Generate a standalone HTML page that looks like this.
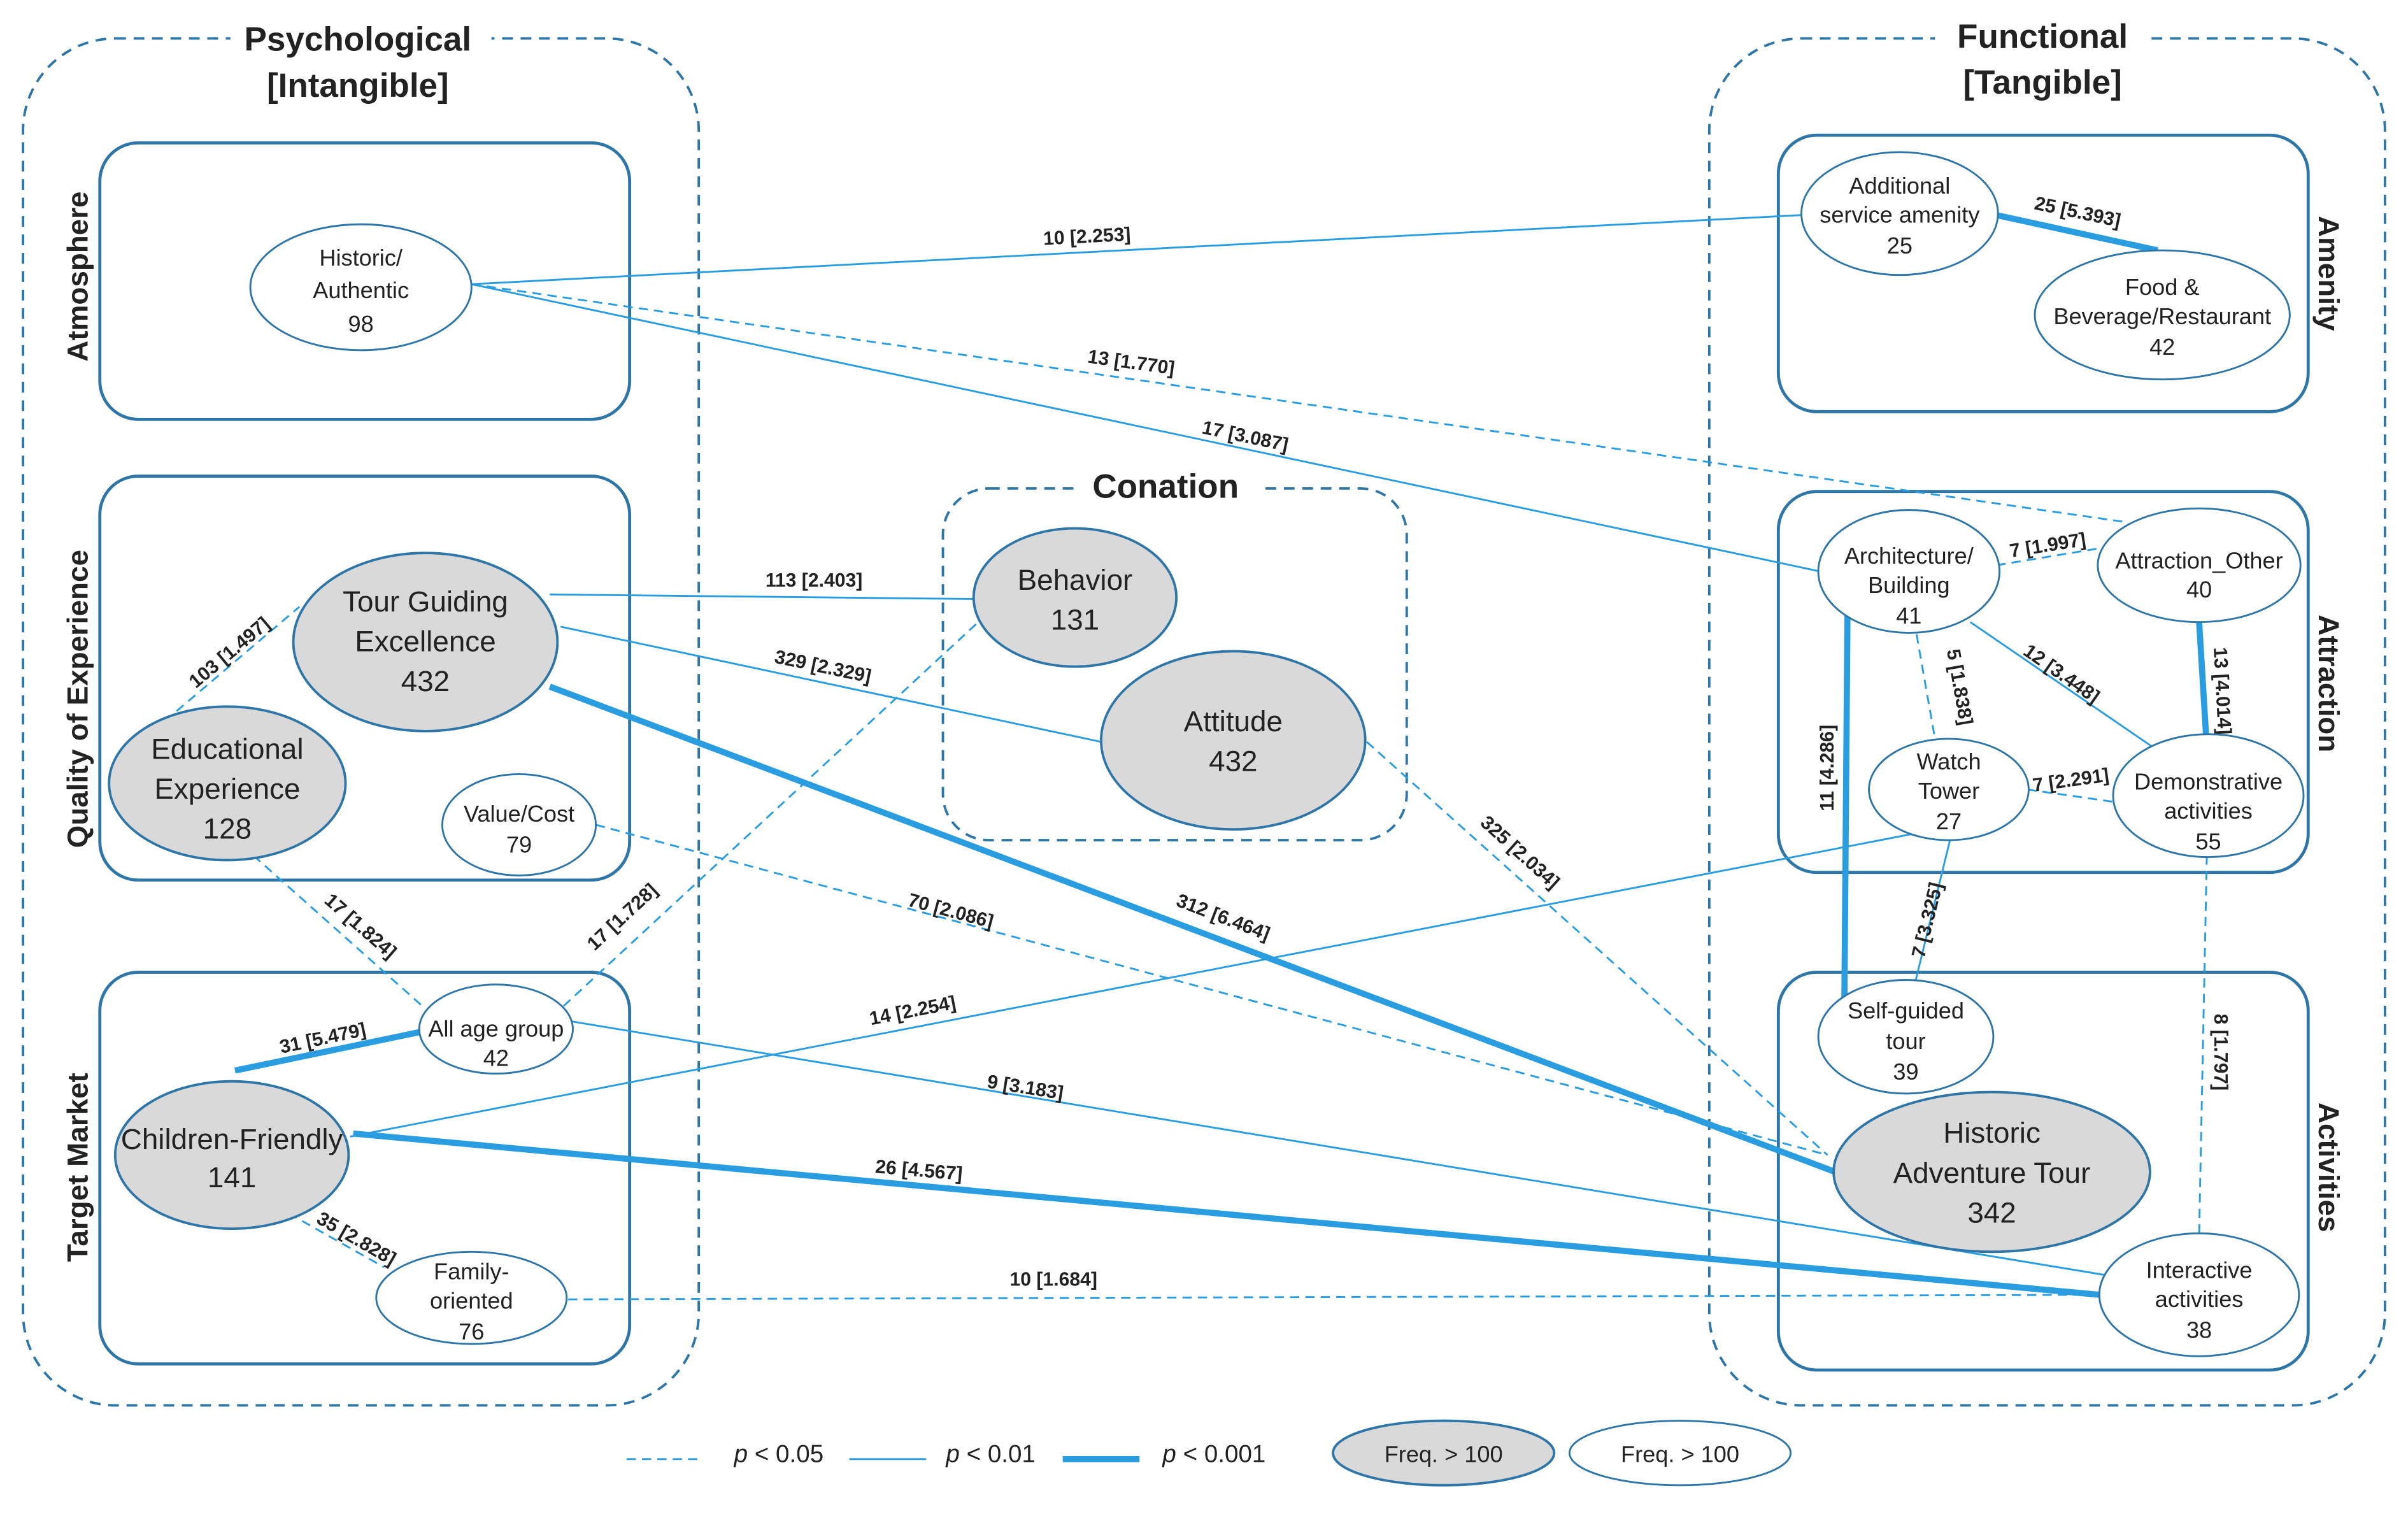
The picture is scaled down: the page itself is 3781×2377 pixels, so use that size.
<!DOCTYPE html>
<html><head><meta charset="utf-8"><style>
html,body{margin:0;padding:0;background:#fff;}
svg{display:block;}
text{font-family:"Liberation Sans",Arial,sans-serif;fill:#222;}
.t{font-size:15px;text-anchor:middle;}
.tb{font-size:19px;text-anchor:middle;}
.lb{font-size:12.5px;font-weight:bold;text-anchor:middle;}
.hd{font-size:22px;font-weight:bold;text-anchor:middle;}
.side{font-size:19px;font-weight:bold;text-anchor:middle;}
.box{fill:none;stroke:#2e75a8;stroke-width:2;}
.dbox{fill:none;stroke:#2e75a8;stroke-width:1.6;stroke-dasharray:7,5;}
.w{fill:#fff;stroke:#2e75a8;stroke-width:1.2;}
.g{fill:#d9d9d9;stroke:#2e75a8;stroke-width:1.6;}
.s{stroke:#2a9de0;stroke-width:1.2;fill:none;}
.d{stroke:#2a9de0;stroke-width:1.2;fill:none;stroke-dasharray:6,4;}
.k{stroke:#2a9de0;stroke-width:4;fill:none;}
</style></head><body>
<svg width="3781" height="2377" viewBox="0 0 1568 985.7" xmlns="http://www.w3.org/2000/svg">
<rect width="1568" height="986" fill="#fff"/>
<!-- outer dashed groups -->
<rect class="dbox" x="15" y="25" width="440" height="890" rx="60"/>
<rect class="dbox" x="1113" y="25" width="440" height="890" rx="60"/>
<rect x="150" y="10" width="170" height="60" fill="#fff"/>
<rect x="1260" y="8" width="140" height="60" fill="#fff"/>
<text class="hd" x="233" y="33">Psychological</text>
<text class="hd" x="233" y="63">[Intangible]</text>
<text class="hd" x="1330" y="31">Functional</text>
<text class="hd" x="1330" y="61">[Tangible]</text>
<!-- boxes -->
<rect class="box" x="65" y="93" width="345" height="180" rx="25"/>
<rect class="box" x="65" y="310" width="345" height="263" rx="25"/>
<rect class="box" x="65" y="633" width="345" height="255" rx="25"/>
<rect class="dbox" x="614" y="318" width="302" height="229" rx="30"/>
<rect x="700" y="303" width="120" height="30" fill="#fff"/>
<text class="hd" x="759" y="324">Conation</text>
<rect class="box" x="1158" y="88" width="345" height="180" rx="25"/>
<rect class="box" x="1158" y="320" width="345" height="248" rx="25"/>
<rect class="box" x="1158" y="633" width="345" height="259" rx="25"/>
<text class="side" transform="translate(57,180) rotate(-90)">Atmosphere</text>
<text class="side" transform="translate(57,455) rotate(-90)">Quality of Experience</text>
<text class="side" transform="translate(57,760) rotate(-90)">Target Market</text>
<text class="side" transform="translate(1510,178) rotate(90)">Amenity</text>
<text class="side" transform="translate(1510,445) rotate(90)">Attraction</text>
<text class="side" transform="translate(1510,760) rotate(90)">Activities</text>
<!-- edges -->
<line class="s" x1="307" y1="185" x2="1173" y2="140"/>
<line class="d" x1="307" y1="185" x2="1385" y2="340"/>
<line class="s" x1="307" y1="185" x2="1185" y2="372"/>
<line class="k" x1="1300" y1="140" x2="1405" y2="163"/>
<line class="s" x1="358" y1="387" x2="634" y2="390"/>
<line class="s" x1="365" y1="408" x2="717" y2="483"/>
<line class="k" x1="358" y1="447" x2="1195" y2="763"/>
<line class="d" x1="115" y1="463" x2="195" y2="395"/>
<line class="d" x1="165" y1="557" x2="275" y2="655"/>
<line class="d" x1="367" y1="655" x2="637" y2="405"/>
<line class="d" x1="388" y1="537" x2="1190" y2="752"/>
<line class="d" x1="890" y1="483" x2="1190" y2="752"/>
<line class="k" x1="153" y1="697" x2="273" y2="672"/>
<line class="s" x1="228" y1="740" x2="1245" y2="543"/>
<line class="s" x1="372" y1="665" x2="1370" y2="830"/>
<line class="k" x1="230" y1="738" x2="1367" y2="843"/>
<line class="d" x1="188" y1="790" x2="250" y2="825"/>
<line class="d" x1="370" y1="846" x2="1367" y2="843"/>
<line class="d" x1="1300" y1="368" x2="1367" y2="357"/>
<line class="d" x1="1248" y1="413" x2="1260" y2="481"/>
<line class="s" x1="1283" y1="405" x2="1410" y2="492"/>
<line class="k" x1="1432" y1="405" x2="1437" y2="487"/>
<line class="k" x1="1203" y1="400" x2="1201" y2="650"/>
<line class="d" x1="1320" y1="514" x2="1376" y2="522"/>
<line class="s" x1="1270" y1="546" x2="1247" y2="640"/>
<line class="d" x1="1437" y1="557" x2="1432" y2="803"/>
<!-- edge labels -->
<text class="lb" transform="translate(708,158) rotate(-3)">10 [2.253]</text>
<text class="lb" transform="translate(736,240) rotate(8)">13 [1.770]</text>
<text class="lb" transform="translate(810,288) rotate(12)">17 [3.087]</text>
<text class="lb" transform="translate(1352,142) rotate(12)">25 [5.393]</text>
<text class="lb" transform="translate(530,382)">113 [2.403]</text>
<text class="lb" transform="translate(535,438) rotate(12)">329 [2.329]</text>
<text class="lb" transform="translate(795,601) rotate(21)">312 [6.464]</text>
<text class="lb" transform="translate(152,428) rotate(-40)">103 [1.497]</text>
<text class="lb" transform="translate(232,606) rotate(41)">17 [1.824]</text>
<text class="lb" transform="translate(408,600) rotate(-43)">17 [1.728]</text>
<text class="lb" transform="translate(618,597) rotate(15)">70 [2.086]</text>
<text class="lb" transform="translate(987,558) rotate(42)">325 [2.034]</text>
<text class="lb" transform="translate(211,680) rotate(-12)">31 [5.479]</text>
<text class="lb" transform="translate(595,662) rotate(-11)">14 [2.254]</text>
<text class="lb" transform="translate(667,712) rotate(9)">9 [3.183]</text>
<text class="lb" transform="translate(598,766) rotate(5)">26 [4.567]</text>
<text class="lb" transform="translate(230,810) rotate(30)">35 [2.828]</text>
<text class="lb" transform="translate(686,837)">10 [1.684]</text>
<text class="lb" transform="translate(1334,359) rotate(-9)">7 [1.997]</text>
<text class="lb" transform="translate(1272,448) rotate(80)">5 [1.838]</text>
<text class="lb" transform="translate(1340,442) rotate(35)">12 [3.448]</text>
<text class="lb" transform="translate(1443,450) rotate(87)">13 [4.014]</text>
<text class="lb" transform="translate(1194,500) rotate(-90)">11 [4.286]</text>
<text class="lb" transform="translate(1349,512) rotate(-8)">7 [2.291]</text>
<text class="lb" transform="translate(1259,600) rotate(-76)">7 [3.325]</text>
<text class="lb" transform="translate(1442,685) rotate(90)">8 [1.797]</text>
<!-- nodes -->
<ellipse class="w" cx="235" cy="187" rx="72" ry="41"/>
<text class="t" x="235" y="173">Historic/</text><text class="t" x="235" y="194">Authentic</text><text class="t" x="235" y="216">98</text>
<ellipse class="g" cx="277" cy="418" rx="86" ry="58"/>
<text class="tb" x="277" y="398">Tour Guiding</text><text class="tb" x="277" y="424">Excellence</text><text class="tb" x="277" y="450">432</text>
<ellipse class="g" cx="148" cy="510" rx="77" ry="50"/>
<text class="tb" x="148" y="494">Educational</text><text class="tb" x="148" y="520">Experience</text><text class="tb" x="148" y="546">128</text>
<ellipse class="w" cx="338" cy="537" rx="50" ry="33"/>
<text class="t" x="338" y="535">Value/Cost</text><text class="t" x="338" y="555">79</text>
<ellipse class="g" cx="700" cy="389" rx="66" ry="45"/>
<text class="tb" x="700" y="384">Behavior</text><text class="tb" x="700" y="410">131</text>
<ellipse class="g" cx="803" cy="482" rx="86" ry="58"/>
<text class="tb" x="803" y="476">Attitude</text><text class="tb" x="803" y="502">432</text>
<ellipse class="w" cx="323" cy="670" rx="50" ry="29"/>
<text class="t" x="323" y="675">All age group</text><text class="t" x="323" y="694">42</text>
<ellipse class="g" cx="151" cy="752" rx="76" ry="48"/>
<text class="tb" x="151" y="748">Children-Friendly</text><text class="tb" x="151" y="773">141</text>
<ellipse class="w" cx="307" cy="845" rx="62" ry="30"/>
<text class="t" x="307" y="833">Family-</text><text class="t" x="307" y="852">oriented</text><text class="t" x="307" y="872">76</text>
<ellipse class="w" cx="1237" cy="139" rx="64" ry="40"/>
<text class="t" x="1237" y="126">Additional</text><text class="t" x="1237" y="145">service amenity</text><text class="t" x="1237" y="165">25</text>
<ellipse class="w" cx="1408" cy="205" rx="83" ry="42"/>
<text class="t" x="1408" y="192">Food &amp;</text><text class="t" x="1408" y="211">Beverage/Restaurant</text><text class="t" x="1408" y="231">42</text>
<ellipse class="w" cx="1243" cy="372" rx="59" ry="40"/>
<text class="t" x="1243" y="367">Architecture/</text><text class="t" x="1243" y="386">Building</text><text class="t" x="1243" y="406">41</text>
<ellipse class="w" cx="1432" cy="368" rx="66" ry="37"/>
<text class="t" x="1432" y="370">Attraction_Other</text><text class="t" x="1432" y="389">40</text>
<ellipse class="w" cx="1269" cy="514" rx="52" ry="33"/>
<text class="t" x="1269" y="501">Watch</text><text class="t" x="1269" y="520">Tower</text><text class="t" x="1269" y="540">27</text>
<ellipse class="w" cx="1438" cy="518" rx="62" ry="40"/>
<text class="t" x="1438" y="514">Demonstrative</text><text class="t" x="1438" y="533">activities</text><text class="t" x="1438" y="553">55</text>
<ellipse class="w" cx="1241" cy="675" rx="57" ry="37"/>
<text class="t" x="1241" y="663">Self-guided</text><text class="t" x="1241" y="683">tour</text><text class="t" x="1241" y="703">39</text>
<ellipse class="g" cx="1297" cy="763" rx="103" ry="52" stroke-width="4"/>
<text class="tb" x="1297" y="744">Historic</text><text class="tb" x="1297" y="770">Adventure Tour</text><text class="tb" x="1297" y="796">342</text>
<ellipse class="w" cx="1432" cy="843" rx="65" ry="40"/>
<text class="t" x="1432" y="832">Interactive</text><text class="t" x="1432" y="851">activities</text><text class="t" x="1432" y="871">38</text>
<!-- legend -->
<line class="d" x1="408" y1="950" x2="458" y2="950"/>
<text x="478" y="952" font-size="16"><tspan font-style="italic">p</tspan> &lt; 0.05</text>
<line class="s" x1="553" y1="950" x2="603" y2="950"/>
<text x="616" y="952" font-size="16"><tspan font-style="italic">p</tspan> &lt; 0.01</text>
<line class="k" x1="692" y1="950" x2="742" y2="950"/>
<text x="757" y="952" font-size="16"><tspan font-style="italic">p</tspan> &lt; 0.001</text>
<ellipse class="g" cx="940" cy="946" rx="72" ry="21"/>
<text class="t" x="940" y="952" font-size="16">Freq. &gt; 100</text>
<ellipse class="w" cx="1094" cy="946" rx="72" ry="21"/>
<text class="t" x="1094" y="952" font-size="16">Freq. &gt; 100</text>
</svg>
</body></html>
